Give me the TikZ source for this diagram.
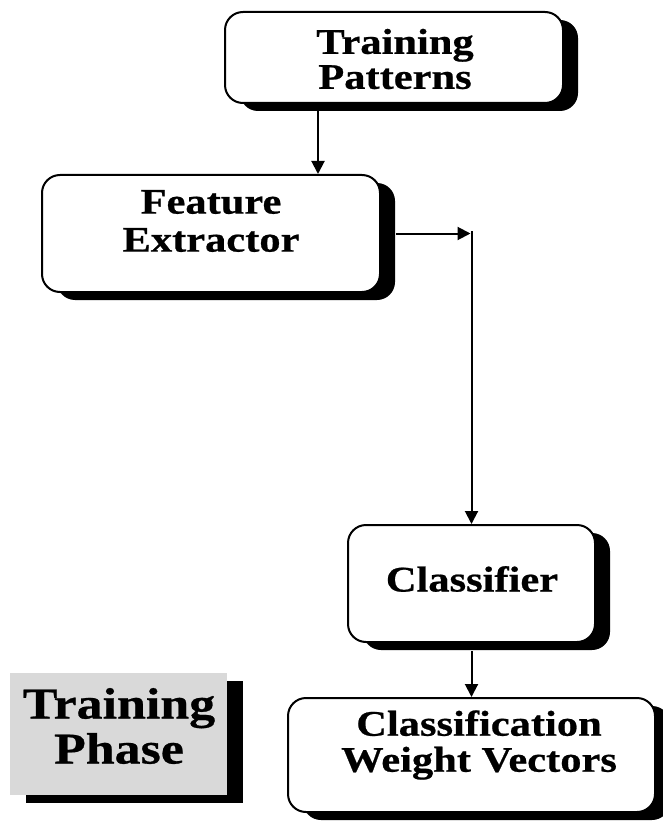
\documentclass[tikz,border=0pt]{standalone}
\usepackage{fontspec}
\setmainfont{Liberation Serif}
\newfontfamily\boxfont[FakeStretch=1.18, FakeBold=0.6]{Liberation Serif}
\usetikzlibrary{arrows.meta,shadows}
\definecolor{phasegray}{HTML}{D9D9D9}
\tikzset{
  stagebox/.style={draw=black, line width=2pt, rounded corners=18pt, fill=white,
    inner sep=0pt,
    drop shadow={shadow xshift=15pt, shadow yshift=-8pt, fill=black, opacity=1,
      rounded corners=18pt}},
  phasebox/.style={fill=phasegray, inner sep=0pt,
    drop shadow={shadow xshift=16pt, shadow yshift=-8pt, fill=black, opacity=1}},
  label text/.style={inner sep=0pt, align=center, text=black},
  flow/.style={line width=2pt, -{Triangle[length=13pt,width=13pt]}}
}
\begin{document}
\begin{tikzpicture}[x=1pt,y=-1pt]
  \useasboundingbox (0,0) rectangle (663,821);

  % stage boxes
  \node[stagebox, minimum width=338pt, minimum height=91pt] (tp) at (394,57.5) {};
  \node[stagebox, minimum width=338pt, minimum height=117pt] (fe) at (211,233.5) {};
  \node[stagebox, minimum width=247pt, minimum height=117pt] (cl) at (471.5,583.5) {};
  \node[stagebox, minimum width=367pt, minimum height=114pt] (cwv) at (471.5,755) {};
  \node[phasebox, minimum width=217pt, minimum height=122pt] (phase) at (118.5,734) {};

  % box captions
  \node[label text, font=\boxfont\bfseries\fontsize{36}{35}\selectfont] (tp-text) at (395,59) {Training\\Patterns};
  \node[label text, font=\boxfont\bfseries\fontsize{36}{38}\selectfont] (fe-text) at (211,221) {Feature\\Extractor};
  \node[label text, font=\boxfont\bfseries\fontsize{36}{36}\selectfont] (cl-text) at (472,579) {Classifier};
  \node[label text, font=\boxfont\bfseries\fontsize{36}{36}\selectfont] (cwv-text) at (479,745) {Classification\\Weight Vectors};
  \node[label text, font=\boxfont\bfseries\fontsize{44}{45}\selectfont] (phase-text) at (119,726) {Training\\Phase};

  % connectors
  \coordinate (drop) at (318,0);
  \coordinate (bend) at ([yshift=2.5pt]fe.east -| cl.north);
  \draw[flow] (drop |- tp.south) -- (drop |- fe.north);
  \draw[flow] ([xshift=15pt]fe.east) -- ([xshift=-1pt]fe.east -| cl.north);
  \draw[flow] (bend) -- (cl.north);
  \draw[flow] ([yshift=-8pt]cl.south) -- (cwv.north);
\end{tikzpicture}
\end{document}
